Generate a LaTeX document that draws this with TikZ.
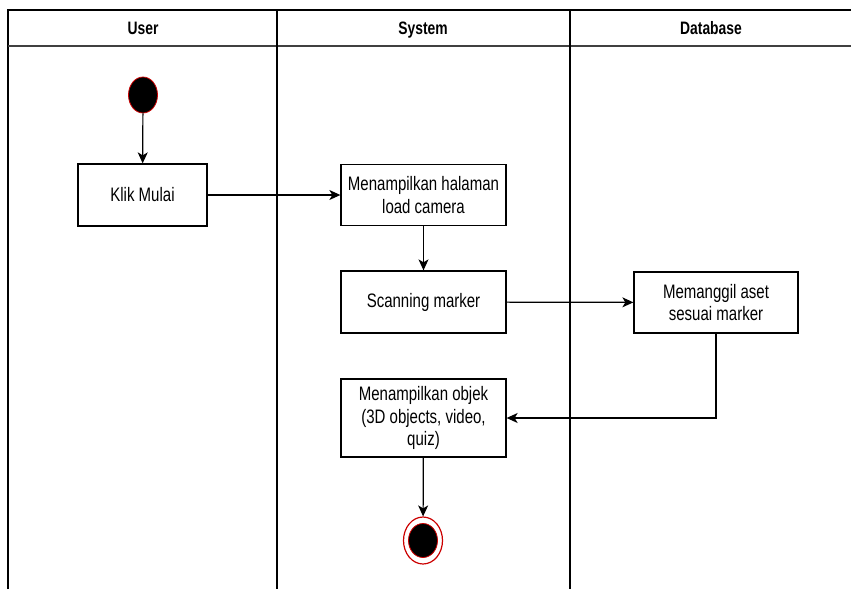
\documentclass[tikz,border=0pt]{standalone}
\usepackage{fontspec}
\setmainfont[FakeStretch=0.77]{Liberation Sans}
\usetikzlibrary{arrows.meta,positioning,shapes.geometric}
\begin{document}
\begin{tikzpicture}[x=1pt,y=-1pt,
  lane/.style={line width=1.2pt,draw=black},
  act/.style={draw=black,line width=1.3pt,fill=white,align=center,inner sep=0pt,
     font=\fontsize{19.5}{22.5}\selectfont},
  hdr/.style={font=\fontsize{18}{20}\selectfont\bfseries,inner sep=0pt,anchor=base},
  flow/.style={line width=1.2pt,-{Stealth[length=11pt,width=10pt,inset=3pt]}}]
\useasboundingbox (0,0) rectangle (851,589);
% swimlane frame
\draw[lane] (8,589) -- (8,10) -- (851,10);
\draw[line width=1.8pt,draw=black!75] (8,46) -- (851,46);
\draw[lane] (277,10) -- (277,589);
\draw[lane] (570,10) -- (570,589);
\node[hdr] (hUser) at (143,34) {User};
\node[hdr] (hSys) at (423,34) {System};
\node[hdr] (hDb) at (711,34) {Database};
% start
\node[ellipse,draw=red!80!black,line width=0.8pt,fill=black,minimum width=29pt,minimum height=36pt,inner sep=0pt] (start) at (143,95) {};
% activities
\node[act,minimum width=129pt,minimum height=62pt] (klik) at (142.5,195) {Klik Mulai};
\node[act,minimum width=165pt,minimum height=61pt] (load) at (423.5,195) {Menampilkan halaman\\load camera};
\node[act,minimum width=165pt,minimum height=62pt] (scan) at (423.5,302) {Scanning marker};
\node[act,minimum width=164pt,minimum height=61pt] (aset) at (716,302.5) {Memanggil aset\\sesuai marker};
\node[act,minimum width=165pt,minimum height=78pt] (objek) at (423.5,418) {Menampilkan objek\\(3D objects, video,\\quiz)};
% end
\node[ellipse,draw=red!80!black,line width=1.2pt,fill=white,minimum width=39pt,minimum height=47pt,inner sep=0pt] (end) at (423,540.5) {};
\node[ellipse,draw=red!80!black,line width=0.8pt,fill=black,minimum width=29pt,minimum height=34pt,inner sep=0pt] (endin) at (423,540.5) {};
% flows
\draw[flow] (start) -- (klik);
\draw[flow] (klik) -- (load);
\draw[flow] (load) -- (scan);
\draw[flow] (scan) -- (aset);
\draw[flow] (aset.south) |- (objek.east);
\draw[flow] (objek) -- (end);
\end{tikzpicture}
\end{document}
